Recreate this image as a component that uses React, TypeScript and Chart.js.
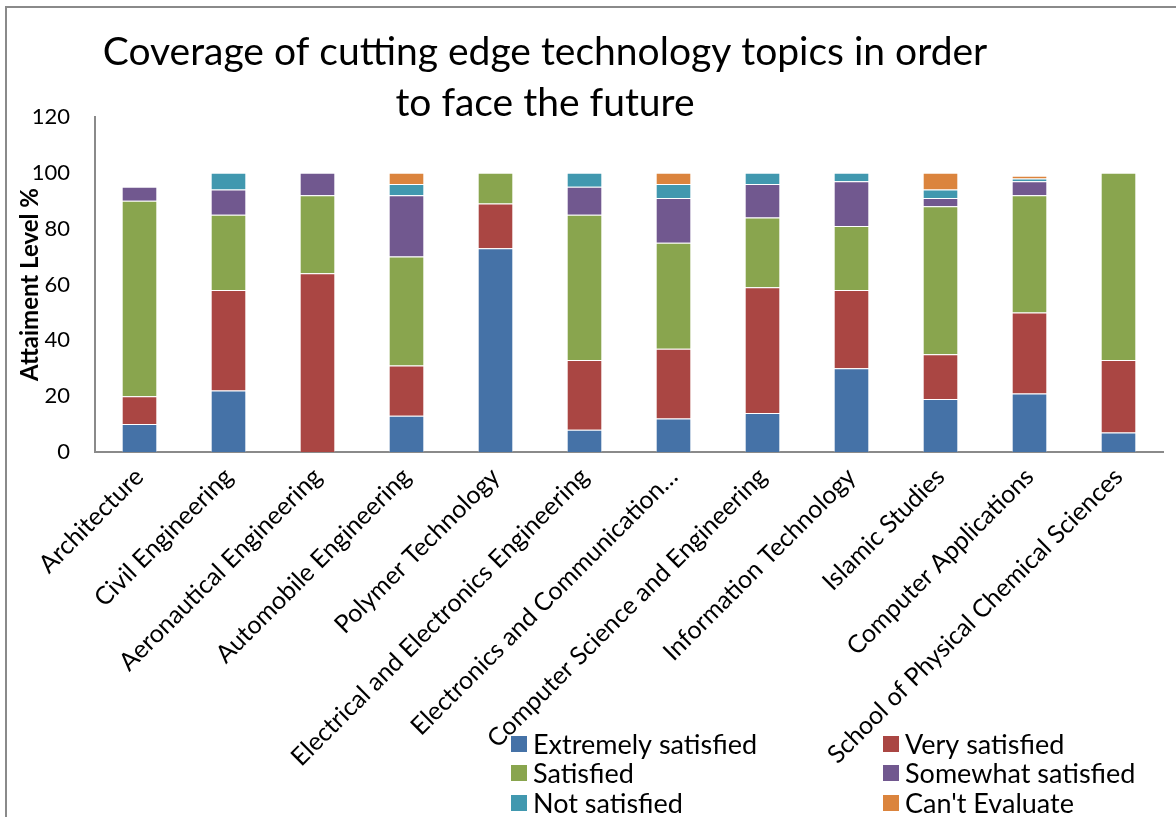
import React, { useEffect, useRef } from "react";
import { Chart, registerables } from "chart.js";

Chart.register(...registerables);

const categories = [
  "Architecture",
  "Civil Engineering",
  "Aeronautical Engineering",
  "Automobile Engineering",
  "Polymer Technology",
  "Electrical and Electronics Engineering",
  "Electronics and Communication Engineering",
  "Computer Science and Engineering",
  "Information Technology",
  "Islamic Studies",
  "Computer Applications",
  "School of Physical Chemical Sciences",
];

const extremelySatisfied = [10, 22, 0, 13, 73, 8, 12, 14, 30, 19, 21, 7];
const verySatisfied = [10, 36, 64, 18, 16, 25, 25, 45, 28, 16, 29, 26];
const satisfied = [70, 27, 28, 39, 11, 52, 38, 25, 23, 53, 42, 67];
const somewhatSatisfied = [5, 9, 8, 22, 0, 10, 16, 12, 16, 3, 5, 0];
const notSatisfied = [0, 6, 0, 4, 0, 5, 5, 4, 3, 3, 1, 0];
const cantEvaluate = [0, 0, 0, 4, 0, 0, 4, 0, 0, 6, 1, 0];

const seriesNames = [
  "Extremely satisfied",
  "Very satisfied",
  "Satisfied",
  "Somewhat satisfied",
  "Not satisfied",
  "Can't Evaluate",
];
const seriesColors = ["#4572A7", "#AA4643", "#89A54E", "#71588F", "#4198AF", "#DB843D"];

const yTicks = [0, 20, 40, 60, 80, 100, 120];

const titleLines = ["Coverage of cutting edge technology topics in order", "to face the future"];
const yTitle = "Attaiment Level %";

const FONT = "Lato, 'Open Sans', sans-serif";

const decorPlugin = {
  id: "decor",
  beforeDraw(chart: any) {
    const ctx = chart.ctx;
    ctx.save();
    ctx.fillStyle = "#ffffff";
    ctx.fillRect(0, 0, chart.width, chart.height);
    ctx.restore();
  },
  afterDraw(chart: any) {
    const ctx = chart.ctx;
    ctx.save();
    // frame
    ctx.strokeStyle = "#8a8a8a";
    ctx.lineWidth = 2;
    ctx.beginPath();
    ctx.moveTo(6, chart.height);
    ctx.lineTo(6, 7);
    ctx.lineTo(chart.width, 7);
    ctx.stroke();

    // title
    ctx.fillStyle = "#000";
    ctx.font = `39px ${FONT}`;
    ctx.textAlign = "center";
    ctx.textBaseline = "middle";
    ctx.fillText(titleLines[0], 545, 52);
    ctx.fillText(titleLines[1], 545, 103);

    // legend
    const ds = chart.data.datasets;
    const colX = [511, 883];
    const rowY = [744, 773, 803];
    ctx.font = `27px ${FONT}`;
    ctx.textAlign = "left";
    ctx.textBaseline = "middle";
    ds.forEach((d: any, i: number) => {
      const x = colX[i % 2];
      const y = rowY[Math.floor(i / 2)];
      ctx.fillStyle = d.backgroundColor;
      ctx.fillRect(x, y - 8, 16, 16);
      ctx.fillStyle = "#000";
      ctx.fillText(d.label, x + 22, y + 1);
    });
    ctx.restore();
  },
};

export default function App() {
  const ref = useRef<HTMLCanvasElement | null>(null);
  useEffect(() => {
    if (!ref.current) return;
    const allSeries = [
      extremelySatisfied,
      verySatisfied,
      satisfied,
      somewhatSatisfied,
      notSatisfied,
      cantEvaluate,
    ];
    const chart = new Chart(ref.current, {
      type: "bar",
      data: {
        labels: categories,
        datasets: allSeries.map((vals, i) => ({
          label: seriesNames[i],
          data: vals,
          backgroundColor: seriesColors[i],
          borderColor: "rgba(255,255,255,0.35)",
          borderWidth: 1,
          categoryPercentage: 0.8,
          barPercentage: 0.5,
        })),
      },
      options: {
        animation: false,
        responsive: false,
        maintainAspectRatio: false,
        layout: { padding: { top: 117, right: 13, left: 0, bottom: 0 } },
        plugins: {
          legend: { display: false },
          title: { display: false },
          tooltip: { enabled: false },
        },
        scales: {
          x: {
            stacked: true,
            grid: { display: false, drawTicks: false },
            border: { display: true, color: "#8a8a8a", width: 2 },
            ticks: {
              autoSkip: false,
              maxRotation: 45,
              minRotation: 45,
              padding: 10,
              color: "#000",
              font: { family: FONT, size: 25 },
              callback: function (this: any, v: any) {
                const s = categories[v as number];
                return s.length > 40 ? s.slice(0, 29) + "…" : s;
              },
            },
            afterFit: (s: any) => {
              s.height = 365;
            },
          },
          y: {
            stacked: true,
            min: 0,
            max: 120,
            afterBuildTicks: (s: any) => {
              s.ticks = yTicks.map((v) => ({ value: v }));
            },
            grid: { display: false, drawTicks: false },
            border: { display: true, color: "#8a8a8a", width: 2 },
            ticks: {
              padding: 25,
              color: "#000",
              font: { family: FONT, size: 22 },
            },
            title: {
              display: true,
              text: yTitle,
              color: "#000",
              font: { family: FONT, size: 24, weight: "bold" },
              padding: { top: 16, bottom: 0 },
            },
            afterFit: (s: any) => {
              s.width = 95;
            },
          },
        },
      },
      plugins: [decorPlugin],
    });
    return () => chart.destroy();
  }, []);
  return (
    <div style={{ position: "absolute", left: 0, top: 0, width: 1176, height: 817 }}>
      <canvas ref={ref} width={1176} height={817} style={{ width: 1176, height: 817 }} />
    </div>
  );
}
